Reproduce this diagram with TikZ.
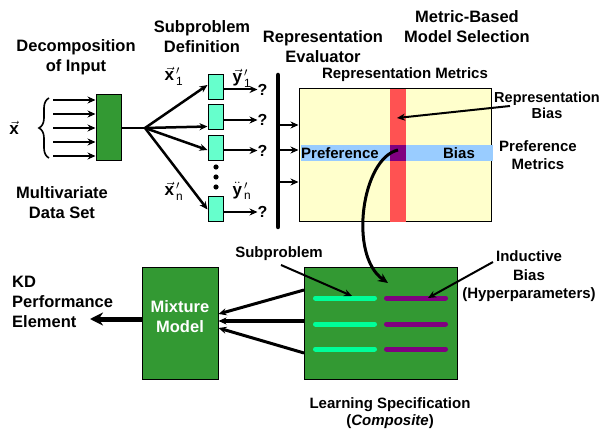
\documentclass[tikz,border=0pt]{standalone}
\usepackage{fontspec}
\setmainfont{Liberation Sans}
\usetikzlibrary{arrows.meta,decorations.pathreplacing,calc}
\definecolor{dgreen}{HTML}{339933}
\definecolor{aqua}{HTML}{66FFCC}
\definecolor{lyellow}{HTML}{FFFFCC}
\definecolor{rstripe}{HTML}{FF5252}
\definecolor{bstripe}{HTML}{99CCFF}
\definecolor{purp}{HTML}{800080}
\definecolor{sgreen}{HTML}{00FF99}
\begin{document}
\begin{tikzpicture}[x=1pt,y=-1pt,
  title/.style={font=\bfseries\fontsize{16.5}{20}\selectfont, align=center, inner sep=0},
  lbl/.style={font=\bfseries\fontsize{15}{17}\selectfont, align=center, inner sep=0},
  mathlbl/.style={font=\fontsize{17}{18}\selectfont, inner sep=0},
  gbox/.style={draw=black, fill=dgreen, line width=1pt, inner sep=0},
  sbox/.style={draw=black, fill=aqua, line width=1pt, minimum width=15pt, minimum height=25pt, inner sep=0},
  arr/.style={line width=2pt, -{Stealth[length=8pt,width=7pt]}},
  barline/.style={line width=4.5pt, line cap=round},
  stripe/.style={line width=5pt, line cap=round}
]
\useasboundingbox[fill=white] (0,0) rectangle (601,435);

% ---------- titles ----------
\node[title] (tdec) at (76,57) {Decomposition\\of Input};
\node[title] (tsub) at (202,36.5) {Subproblem\\Definition};
\node[title] (trep) at (323,47) {Representation\\Evaluator};
\node[title] (tmet) at (467,27) {Metric-Based\\Model Selection};
\node[lbl] (trm) at (405,75) {Representation Metrics};

% ---------- input decomposition ----------
\node[mathlbl] (xvec) at (14,128) {$\vec{\mathbf{x}}$};
\draw[line width=1.6pt, decorate, decoration={brace, amplitude=10pt}] (49,158) -- (49,98);
\node[gbox, minimum width=25pt, minimum height=66pt] (inbox) at (108.5,128) {};
\foreach \y [count=\i] in {100,114,128,142,156} {
  \coordinate (in\i) at (53,\y);
  \draw[arr] (in\i) -- (inbox.west |- in\i);
}
\node[title] (mds) at (62,203) {Multivariate\\Data Set};

% ---------- subproblems ----------
\coordinate (jn) at (145,128);
\draw[line width=2.5pt] (inbox.east) -- (jn);
\node[sbox] (s1) at (215.5,87) {};
\node[sbox] (s2) at (215.5,117.5) {};
\node[sbox] (s3) at (215.5,148) {};
\node[sbox] (s4) at (215.5,209.5) {};
\draw[arr, line width=2.5pt] (jn) -- ([yshift=2pt]s1.west);
\draw[arr, line width=2.5pt] (jn) -- ([yshift=-9pt]s2.west);
\draw[arr, line width=2.5pt] (jn) -- ([yshift=-2pt]s3.west);
\draw[arr, line width=2.5pt] (jn) -- (s4.west);
\foreach \y in {167,177,187} \fill (216,\y) circle (2.6pt);
\foreach \i in {1,2,3,4} {
  \node[lbl, anchor=west, font=\bfseries\fontsize{16}{18}\selectfont] (q\i) at ($(s\i.east)+(34,2.5)$) {?};
  \draw[arr] ([yshift=-2.5pt]s\i.east) -- (q\i.west);
}
\node[mathlbl] (x1) at (174,76) {$\vec{\mathbf{x}}^{\,\prime}_{\,\mathrm{1}}$};
\node[mathlbl] (y1) at (242,78) {$\vec{\mathbf{y}}^{\,\prime}_{\,\mathrm{1}}$};
\node[mathlbl] (xn) at (174,191) {$\vec{\mathbf{x}}^{\,\prime}_{\,\mathrm{n}}$};
\node[mathlbl] (yn) at (242,191) {$\ddot{\mathbf{y}}^{\,\prime}_{\,\mathrm{n}}$};

% ---------- representation evaluator ----------
\coordinate (bartop) at (278,75);
\coordinate (barbot) at (278,227);
\draw[barline] (bartop) -- (barbot);
\node[draw=black, fill=lyellow, line width=1pt, minimum width=192pt, minimum height=133pt, inner sep=0] (ysel) at (395,155.5) {};
\foreach \y [count=\i] in {125,150,182} {
  \coordinate (b\i) at (280,\y);
  \draw[arr] (b\i) -- (ysel.west |- b\i);
}
\fill[rstripe] (390,89) rectangle (406,222);
\fill[bstripe] (301,145) rectangle (493,161);
\node[fill=purp, minimum width=16pt, minimum height=16pt, inner sep=0] (pint) at (398,153) {};
\node[lbl] (pref) at (340,153) {Preference};
\node[lbl] (bias) at (459,153) {Bias};
\node[lbl, font=\bfseries\fontsize{14.5}{16}\selectfont] (rbias) at (547,105) {Representation\\Bias};
\coordinate (rbs) at (510,106);
\coordinate (rbt) at (397,118);
\draw[arr] (rbs) -- (rbt);
\node[lbl, font=\bfseries\fontsize{15}{18}\selectfont] (pmet) at (538,155) {Preference\\Metrics};

% ---------- lower part ----------
\node[gbox, minimum width=76pt, minimum height=112pt] (mix) at (180,323) {};
\node[title, text=white] (mixl) at (180,317) {Mixture\\Model};
\node[gbox, minimum width=153pt, minimum height=112pt] (lspec) at (380.5,323) {};
\foreach \y in {298,324,349} {
  \draw[stripe, sgreen] (315.5,\y) -- (374.5,\y);
  \draw[stripe, purp] (386.5,\y) -- (445.5,\y);
}
\coordinate (ct) at (388,283);
\draw[line width=3pt, -{Stealth[length=10pt,width=9pt]}] ([yshift=3pt]pint.center) .. controls (362,158) and (348,255) .. (ct);

\node[lbl] (subl) at (279,254) {Subproblem};
\coordinate (subs) at (281,265);
\coordinate (subt) at (352,296);
\draw[arr] (subs) -- (subt);
\node[lbl, font=\bfseries\fontsize{15}{18.5}\selectfont] (indl) at (529,276.5) {Inductive\\Bias\\(Hyperparameters)};
\coordinate (inds) at (493,262);
\coordinate (indt) at (428,298);
\draw[arr] (inds) -- (indt);

\coordinate (m1) at (304,290);
\coordinate (m2) at (304,321);
\coordinate (m3) at (304,353);
\draw[arr, line width=3pt] (m1) -- ([yshift=9pt]mix.east);
\draw[arr, line width=3.5pt] (m2) -- ([yshift=2pt]mix.east);
\draw[arr, line width=3pt] (m3) -- ([yshift=-5pt]mix.east);
\coordinate (kdt) at (90,319);
\draw[line width=5pt, -{Stealth[length=13pt,width=13pt]}] ([yshift=4pt]mix.west) -- (kdt);
\node[title, align=left, anchor=west] (kd) at (12,302) {KD\\Performance\\Element};
\node[lbl] (lsl) at (390,413.5) {Learning Specification\\(\textit{Composite})};
\end{tikzpicture}
\end{document}
